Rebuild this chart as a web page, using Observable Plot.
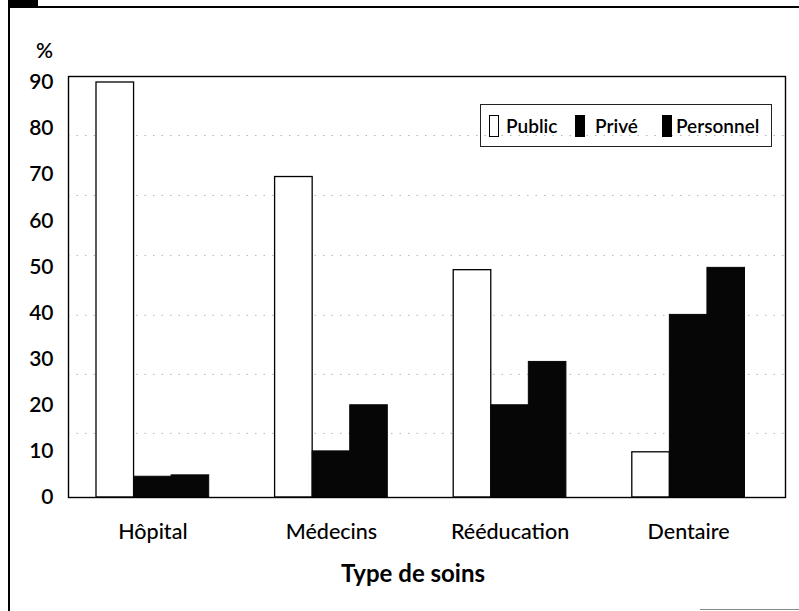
<!DOCTYPE html>
<html>
<head>
<meta charset="utf-8">
<script src="https://cdn.jsdelivr.net/npm/d3@7"></script>
<script src="https://cdn.jsdelivr.net/npm/@observablehq/plot@0.6"></script>
<style>
  html, body { margin: 0; padding: 0; background: #fff; }
  #page { position: relative; width: 799px; height: 611px; overflow: hidden; font-family: Lato, "Open Sans", sans-serif; }
  #chart svg { display: block; }
  .deco { position: absolute; background: #000; }
  #legend { position: absolute; left: 480px; top: 104px; width: 292px; height: 43px; border: 1px solid #222; box-sizing: border-box; font-size: 19px; font-family: Lato, sans-serif; color: #000; }
  .sw { position: absolute; top: 10px; width: 10px; height: 22px; box-sizing: border-box; }
  .lt { position: absolute; top: 10px; line-height: 22px; font-weight: 600; }
</style>
</head>
<body>
<div id="page">
  <div id="chart"></div>
  <div class="deco" style="left:8px;top:0;width:30px;height:7px"></div>
  <div class="deco" style="left:8px;top:0;width:2px;height:611px"></div>
  <div class="deco" style="left:8px;top:6px;width:791px;height:2px"></div>
  <div class="deco" style="left:700px;top:609px;width:99px;height:1px;background:#888"></div>
  <div id="legend"></div>
</div>
<script>
const categories = ["Hôpital", "Médecins", "Rééducation", "Dentaire"];
const series = ["Public", "Privé", "Personnel"];
const publicValues = [90, 69.5, 49.3, 9.8];
const priveValues = [4.5, 10, 20, 39.6];
const personnelValues = [4.8, 20, 29.4, 49.8];
const yTicks = [0, 10, 20, 30, 40, 50, 60, 70, 80, 90];
const gridValues = [13.9, 26.7, 39.5, 52.5, 65.5, 78.5];
const yLabel = "%";
const xLabel = "Type de soins";

const seriesValues = [publicValues, priveValues, personnelValues];
const data = [];
series.forEach((s, j) => categories.forEach((c, i) => data.push({category: c, series: s, value: seriesValues[j][i]})));

const xRange = [96, 744.5];
const padInner = 0.369;
const bw = d3.scaleBand().domain(categories).range(xRange).paddingInner(padInner).paddingOuter(0).bandwidth();
const sub = bw / 3;
const styles = {
  "Public": {fill: "#fff", stroke: "#000", strokeWidth: 1.3, insetLeft: 0, insetRight: 2 * sub},
  "Privé": {fill: "#060606", stroke: "#060606", strokeWidth: 1, insetLeft: sub, insetRight: sub},
  "Personnel": {fill: "#060606", stroke: "#060606", strokeWidth: 1, insetLeft: 2 * sub, insetRight: 0}
};

const fontFamily = "Lato, 'Open Sans', sans-serif";
const chart = Plot.plot({
  width: 799,
  height: 611,
  marginTop: 76,
  marginBottom: 114,
  marginLeft: 68,
  marginRight: 14,
  style: {fontFamily, color: "#000", background: "transparent"},
  x: {type: "band", domain: categories, range: xRange, paddingInner: padInner, paddingOuter: 0, round: false},
  y: {domain: [0, 91.3], round: false},
  marks: [
    Plot.ruleY(gridValues, {stroke: "#b5b5b5", strokeWidth: 1, strokeDasharray: "1.5,7"}),
    ...series.map(s => Plot.barY(data.filter(d => d.series === s), {x: "category", y: "value", ...styles[s]})),
    Plot.frame({stroke: "#000", strokeWidth: 1.4}),
    Plot.axisY({ticks: yTicks, tickSize: 0, tickPadding: 15, fontSize: 21, fontWeight: 600, label: null}),
    Plot.axisX({tickSize: 0, tickPadding: 26, fontSize: 21.5, fontWeight: 500, label: null}),
    Plot.text([yLabel], {frameAnchor: "top-left", dx: -24, dy: -33, fontSize: 21, fontWeight: 600, textAnchor: "middle"}),
    Plot.text([xLabel], {frameAnchor: "bottom", dx: -14, dy: 84, fontSize: 24, fontWeight: 700, textAnchor: "middle"})
  ]
});
document.getElementById("chart").appendChild(chart);

const legendItems = [
  {label: "Public", swX: 8, txX: 25, fill: "#fff", border: "1px solid #000"},
  {label: "Privé", swX: 94, txX: 114, fill: "#000", border: "none"},
  {label: "Personnel", swX: 181, txX: 195, fill: "#000", border: "none"}
];
const legend = document.getElementById("legend");
legendItems.forEach((it, i) => {
  const sw = document.createElement("div");
  sw.className = "sw";
  sw.style.left = it.swX + "px";
  sw.style.background = it.fill;
  sw.style.border = it.border;
  legend.appendChild(sw);
  const t = document.createElement("div");
  t.className = "lt";
  t.style.left = it.txX + "px";
  t.textContent = series[i];
  legend.appendChild(t);
});
</script>
</body>
</html>
